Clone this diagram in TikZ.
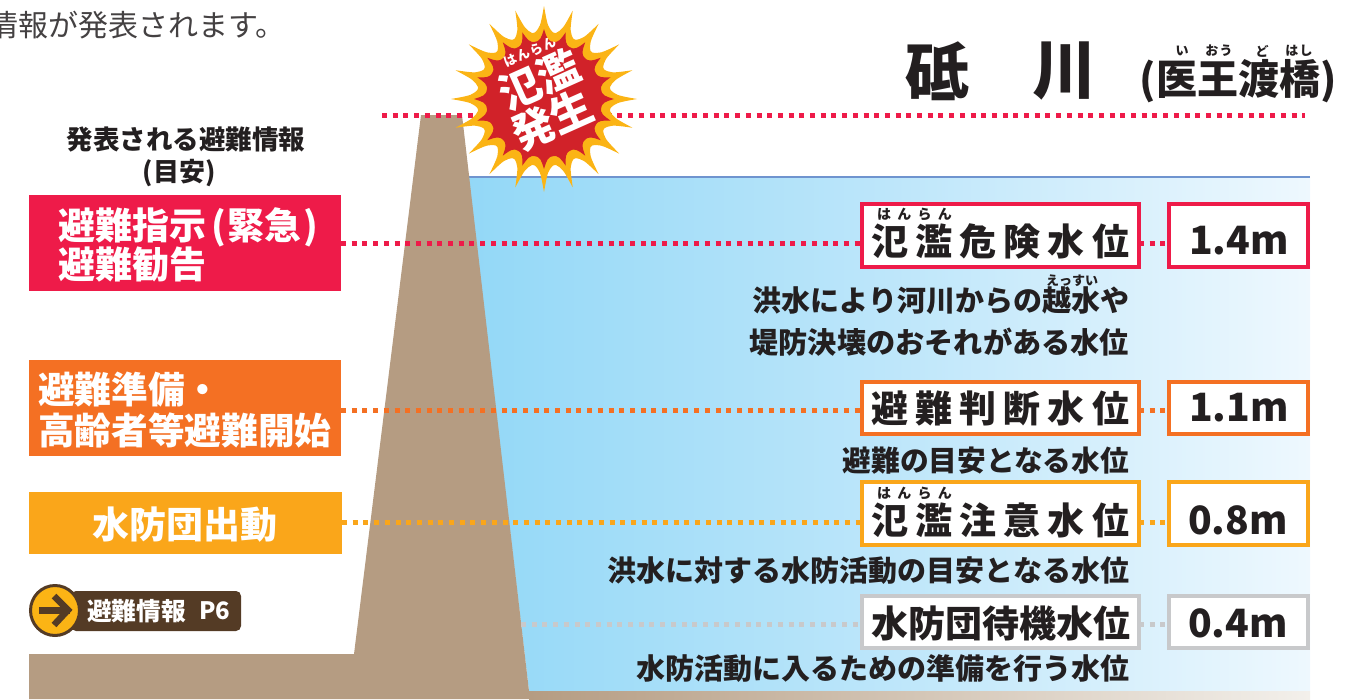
\documentclass[tikz,border=0pt]{standalone}
\usepackage{fontspec}
\setmainfont{Noto Sans CJK JP}
\usetikzlibrary{calc,shapes.geometric}
\newcommand{\fz}[1]{\fontsize{#1pt}{#1pt}\selectfont}
\newcommand{\spaced}[1]{\addfontfeature{LetterSpace=#1}}
\definecolor{cred}{HTML}{EE1B49}
\definecolor{corange}{HTML}{F47023}
\definecolor{cyellow}{HTML}{FAA61A}
\definecolor{cgray}{HTML}{C8C9CB}
\definecolor{cbrown}{HTML}{B59C82}
\definecolor{ink}{HTML}{231F20}
\definecolor{burstred}{HTML}{D12229}
\definecolor{burstyel}{HTML}{FBB415}
\definecolor{dkbrown}{HTML}{543B25}
\definecolor{waterL}{HTML}{93D8F7}
\definecolor{waterM}{HTML}{BDE6FA}
\definecolor{waterR}{HTML}{EEF8FE}
\definecolor{sandR}{HTML}{F3F0EB}
\definecolor{surface}{HTML}{6F94CF}
\tikzset{
  lbl/.style={inner sep=0pt,outer sep=0pt,font=\bfseries,text=ink},
  whitelbl/.style={inner sep=0pt,outer sep=0pt,font=\bfseries,text=white},
  alertbox/.style={rectangle,inner sep=0pt,outer sep=0pt,fill=#1},
  lvl/.style={rectangle,draw=#1,fill=white,line width=4pt,inner sep=0pt,outer sep=0pt},
  dots/.style={draw=#1,line width=5pt,dash pattern=on 5pt off 5.7pt},
}
\begin{document}
\begin{tikzpicture}[x=1pt,y=-1pt]
\path[use as bounding box,clip] (0,0) rectangle (1360,699);
% water
\shade[left color=waterL,right color=waterR,middle color=waterM] (468,177) -- (1310,177) -- (1310,691) -- (529,691) -- cycle;
\draw[surface,line width=2.5pt] (468,177) -- (1310,177);
% sand strip and dike
\shade[left color=cbrown,right color=sandR] (529,691) rectangle (1310,699);
\fill[cbrown] (29,699) -- (29,654) -- (354,654) -- (421,115) -- (462,115) -- (529,691) -- (529,699) -- cycle;
% top dotted line
\coordinate (topL) at (382,115);
\coordinate (topR) at (1305,115);
\draw[dots=cred] (topL) -- (topR);
% starburst
\begin{scope}[shift={(544,99)}]
\fill[burstyel] (0,0) circle (67);
\foreach \a in {0,18,...,342}{
  \fill[burstyel] (\a-9:66) .. controls (\a-3:72) .. (\a:93) .. controls (\a+3:72) .. (\a+9:66) -- (0,0) -- cycle;
}
\fill[burstred] (0,0) circle (58);
\foreach \a in {0,18,...,342}{
  \fill[burstred] (\a-9:57) .. controls (\a-3:60) .. (\a:70) .. controls (\a+3:60) .. (\a+9:57) -- (0,0) -- cycle;
}
\end{scope}
\node[whitelbl,rotate=24] (bRuby) at (530,52) {\fz{13}\spaced{10}はんらん};
\node[whitelbl,rotate=24] (bA) at (539,80) {\fz{42}氾濫};
\node[whitelbl,rotate=24] (bB) at (552,120) {\fz{42}発生};
% top text
\node[inner sep=0pt,anchor=east,text=ink!85] (intro) at (286,25) {\fz{30}情報が発表されます。};
% title
\node[lbl,anchor=west] (titleA) at (905,71) {\fz{64}砥};
\node[lbl,anchor=west] (titleB) at (1032,71) {\fz{64}川};
\node[lbl,anchor=center] (sub) at (1238,81) {\fz{41}(医王渡橋)};
\node[lbl] (subR1) at (1182,51) {\fz{13}い};
\node[lbl] (subR2) at (1219,51) {\fz{13}\spaced{10}おう};
\node[lbl] (subR3) at (1262,51) {\fz{13}ど};
\node[lbl] (subR4) at (1299,51) {\fz{13}\spaced{10}はし};
% left heading
\node[lbl] (headA) at (186,139) {\fz{26.5}発表される避難情報};
\node[lbl] (headB) at (179,173) {\fz{26}(目安)};
% alert boxes
\node[alertbox=cred,minimum width=312pt,minimum height=96pt] (aRed) at (185,243) {};
\node[alertbox=corange,minimum width=312pt,minimum height=96pt] (aOrange) at (185,408) {};
\node[alertbox=cyellow,minimum width=313pt,minimum height=62pt] (aYellow) at (185.5,523) {};
\node[whitelbl,anchor=west] (aRedA) at (58,227) {\fz{37}避難指示\kern6pt(\kern1pt緊急\kern2pt)};
\node[whitelbl,anchor=west] (aRedB) at (58,264) {\fz{37}避難勧告};
\node[whitelbl,anchor=west] (aOrA) at (38,390) {\fz{36.7}避難準備・};
\node[whitelbl,anchor=west] (aOrB) at (38,430) {\fz{36.7}高齢者等避難開始};
\node[whitelbl] (aYeA) at (185,525) {\fz{37}水防団出動};
% page reference badge
\node[rectangle,rounded corners=5pt,fill=dkbrown,minimum width=170pt,minimum height=40pt,inner sep=0pt] (badge) at (156,611) {};
\node[ellipse,draw=dkbrown,fill=burstyel,line width=3pt,minimum width=49pt,minimum height=50pt,inner sep=0pt] (badgeC) at (55,610.5) {};
\draw[dkbrown,line width=7pt] (39,610) -- (70,610);
\draw[dkbrown,line width=6.5pt] (54,596) -- (68,610) -- (54,625);
\node[whitelbl,anchor=west] (badgeT) at (87,611) {\fz{24.7}避難情報};
\node[whitelbl,anchor=west] (badgeP) at (199,611) {\fz{24}P6};
% level boxes
\node[lvl=cred,minimum width=277pt,minimum height=63pt] (lRed) at (1000.5,235.5) {};
\node[lvl=cred,minimum width=139pt,minimum height=63pt] (vRed) at (1238.5,235.5) {};
\node[lvl=corange,minimum width=277pt,minimum height=52pt] (lOrange) at (1000.5,408) {};
\node[lvl=corange,minimum width=139pt,minimum height=52pt] (vOrange) at (1238.5,408) {};
\node[lvl=cyellow,minimum width=277pt,minimum height=63pt] (lYellow) at (1000.5,513.5) {};
\node[lvl=cyellow,minimum width=139pt,minimum height=63pt] (vYellow) at (1238.5,513.5) {};
\node[lvl=cgray,minimum width=277pt,minimum height=52pt] (lGray) at (1000.5,622) {};
\node[lvl=cgray,minimum width=139pt,minimum height=52pt] (vGray) at (1238.5,622) {};
% connectors
\coordinate (dikeGray) at (521,624);
\draw[dots=cred] (aRed.east |- 0,243) -- (lRed.west |- 0,243);
\draw[dots=cred] (lRed.east |- 0,243) -- (vRed.west |- 0,243);
\draw[dots=corange] (aOrange.east |- 0,410) -- (lOrange.west |- 0,410);
\draw[dots=corange] (lOrange.east |- 0,410) -- (vOrange.west |- 0,410);
\draw[dots=cyellow] (aYellow.east |- 0,522) -- (lYellow.west |- 0,522);
\draw[dots=cyellow] (lYellow.east |- 0,522) -- (vYellow.west |- 0,522);
\draw[dots=cgray] (dikeGray) -- (lGray.west |- 0,624);
\draw[dots=cgray] (lGray.east |- 0,624) -- (vGray.west |- 0,624);
% level labels
\node[lbl,anchor=west] (tRed) at (871,241) {\fz{37}\spaced{19.5}氾濫危険水位};
\node[lbl,anchor=west] (tOrange) at (871,408) {\fz{37}\spaced{19.5}避難判断水位};
\node[lbl,anchor=west] (tYellow) at (871,520) {\fz{37}\spaced{19.5}氾濫注意水位};
\node[lbl,anchor=west] (tGray) at (871,623) {\fz{37}水防団待機水位};
\node[lbl,anchor=west] (rRed) at (877,214) {\fz{14}\spaced{45}はんらん};
\node[lbl,anchor=west] (rYellow) at (877,493) {\fz{14}\spaced{45}はんらん};
\node[lbl] (nRed) at (1239,241) {\fz{39}1.4m};
\node[lbl] (nOrange) at (1239,408) {\fz{39}1.1m};
\node[lbl] (nYellow) at (1238,520) {\fz{39}0.8m};
\node[lbl] (nGray) at (1238,623) {\fz{39}0.4m};
% descriptions
\node[lbl,anchor=east] (dA) at (1129,301) {\fz{29}洪水により河川からの越水や};
\node[lbl] (dAr) at (1072,281) {\fz{13}えっすい};
\node[lbl,anchor=east] (dB) at (1129,342) {\fz{29.2}堤防決壊のおそれがある水位};
\node[lbl,anchor=east] (dC) at (1129,461) {\fz{28.7}避難の目安となる水位};
\node[lbl,anchor=east] (dD) at (1129,571) {\fz{29}洪水に対する水防活動の目安となる水位};
\node[lbl,anchor=east] (dE) at (1129,669) {\fz{29}水防活動に入るための準備を行う水位};
\end{tikzpicture}
\end{document}
